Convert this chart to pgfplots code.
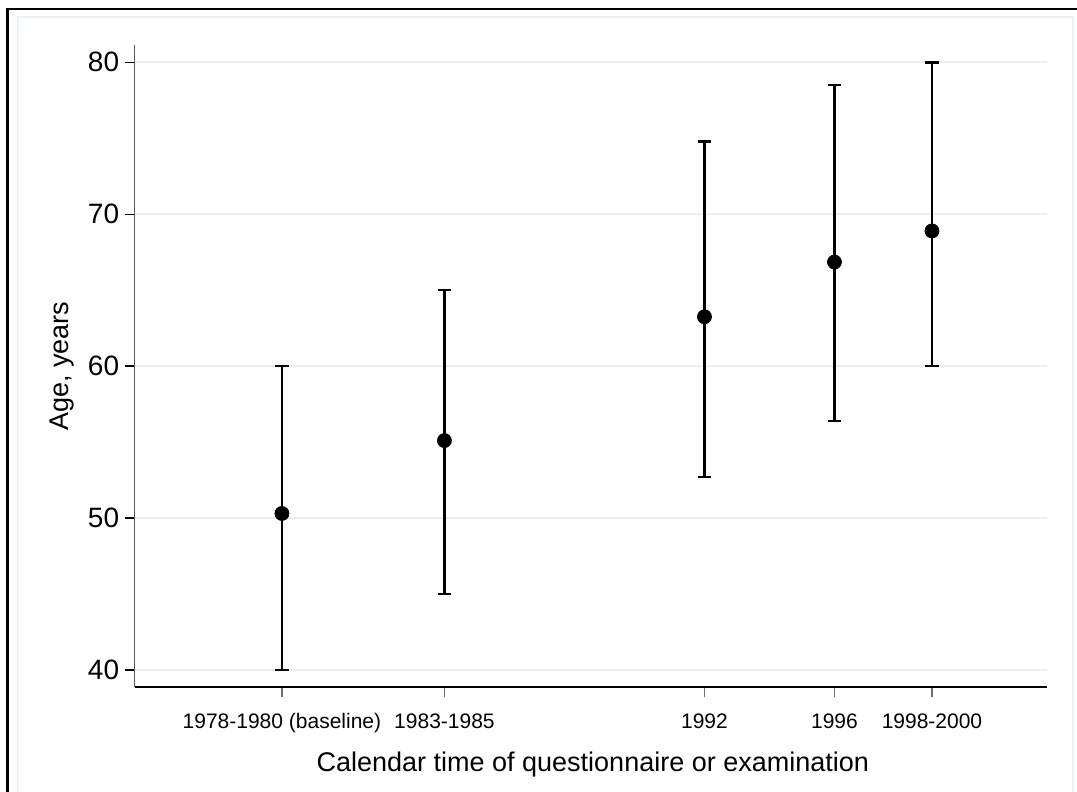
\documentclass[border=0pt]{standalone}
\usepackage{pgfplots}
\pgfplotsset{compat=1.18}
\usepackage{pgfplotstable}
\usepackage{fontspec}
\setmainfont{Liberation Sans}

\definecolor{gridc}{RGB}{232,240,242}
\definecolor{regionc}{RGB}{234,242,243}
\definecolor{yaxisc}{RGB}{90,90,90}
\definecolor{xtickc}{RGB}{110,110,110}

% mean age with lower and upper limit at each survey wave
\pgfplotstableread{
x     y      lo    hi
1979  50.3   40.0  60.0
1984  55.1   45.0  65.0
1992  63.25  52.7  74.8
1996  66.85  56.4  78.5
1999  68.9   60.0  80.0
}\agedata

\begin{document}
\begin{tikzpicture}
\useasboundingbox (0pt,0pt) rectangle (538.5pt,396pt);
% outer frame and graph region
\draw[regionc, line width=0.6pt] (9pt,0pt) -- (9pt,387.5pt) -- (536.5pt,387.5pt) -- (536.5pt,0pt);
\draw[black, line width=1.3pt] (3.65pt,0pt) -- (3.65pt,391.5pt) -- (538.5pt,391.5pt);
\begin{axis}[
  at={(67.35pt,52.35pt)}, anchor=south west,
  scale only axis, width=456pt, height=321.15pt,
  xmin=1974.47, xmax=2002.53, ymin=38.86, ymax=81.14,
  axis x line*=bottom, axis y line*=left,
  x axis line style={black, line width=0.8pt},
  y axis line style={yaxisc, line width=0.75pt},
  tick align=outside, major tick length=5pt,
  xtick={1979,1984,1992,1996,1999},
  xticklabels={1978-1980 (baseline),1983-1985,1992,1996,1998-2000},
  ytick={40,50,60,70,80},
  xtick style={xtickc, line width=0.7pt},
  ytick style={black, line width=0.7pt},
  ymajorgrids, grid style={gridc, line width=1pt},
  /pgf/number format/assume math mode=true,
  xticklabel style={font=\fontsize{10.5}{12}\selectfont, anchor=base, inner sep=0pt, yshift=-15.85pt},
  yticklabel style={font=\fontsize{14}{16}\selectfont, anchor=east, inner sep=0pt, xshift=-2.6pt},
  xlabel={Calendar time of questionnaire or examination},
  ylabel={Age, years},
  xlabel style={font=\fontsize{13.5}{16}\selectfont, at={(axis description cs:0.5023,-0.121)}, anchor=center},
  ylabel style={font=\fontsize{13.5}{16}\selectfont, at={(axis description cs:-0.0797,0.5)}, anchor=center},
  clip=false,
]
\addplot[black, only marks, mark=*, mark size=3.5pt,
  error bars/.cd, y dir=both, y explicit,
  error bar style={black, line width=1.25pt},
  error mark options={black, line width=1.25pt, mark size=3.3pt, rotate=90}]
  table[x=x, y=y,
        y error plus expr=\thisrow{hi}-\thisrow{y},
        y error minus expr=\thisrow{y}-\thisrow{lo}] {\agedata};
\end{axis}
\end{tikzpicture}
\end{document}
